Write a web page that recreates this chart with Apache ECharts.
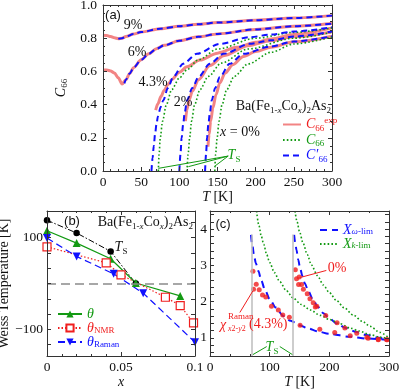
<!DOCTYPE html>
<html><head><meta charset="utf-8">
<script src="https://cdn.jsdelivr.net/npm/echarts@6/dist/echarts.min.js"></script>
<style>html,body{margin:0;padding:0;background:#fff}#c{width:400px;height:390px}</style>
</head><body><div id="c"></div>
<script>
// ================= DATA =================
// Panel (a): C66 versus T [K]
const a_exp_9 = [[0,0.818],[5,0.816],[10,0.81],[15,0.802],[20,0.797],[25,0.8],[30,0.81],[40,0.825],[50,0.837],[75,0.857],[100,0.872],[125,0.884],[150,0.894],[200,0.908],[250,0.922],[300,0.936]];
const a_cp_9  = [[20,0.797],[25,0.8],[30,0.81],[40,0.825],[50,0.837],[75,0.857],[100,0.872],[125,0.884],[150,0.894],[200,0.908],[250,0.922],[300,0.936]];
const a_exp_6 = [[0,0.608],[5,0.608],[10,0.603],[15,0.59],[20,0.562],[25,0.524],[30,0.55],[35,0.588],[40,0.622],[50,0.67],[60,0.706],[70,0.736],[80,0.757],[100,0.785],[125,0.808],[150,0.826],[200,0.853],[250,0.872],[300,0.888]];
const a_cp_6  = [[28,0.528],[30,0.55],[35,0.588],[40,0.622],[50,0.67],[60,0.706],[70,0.736],[80,0.757],[100,0.785],[125,0.808],[150,0.826],[200,0.853],[250,0.872],[300,0.888]];
const a_exp_43 = [[69,0.367],[72,0.405],[76,0.45],[80,0.485],[85,0.52],[90,0.55],[100,0.595],[110,0.628],[127,0.668],[150,0.71],[175,0.745],[200,0.775],[220,0.795],[250,0.823],[300,0.862]];
const a_c_43  = [[72.5,0],[73.5,0.1],[75,0.2],[78,0.3],[83,0.4],[90,0.49],[100,0.56],[110,0.61],[125,0.67],[150,0.735],[200,0.8],[250,0.835],[300,0.862]];
const a_cp_43 = [[63.5,0],[65,0.08],[66.5,0.15],[68.3,0.226],[70,0.28],[72,0.33],[75.5,0.385],[79,0.426],[85,0.5],[92,0.566],[105,0.646],[123,0.706],[153,0.766],[192,0.806],[220,0.822],[250,0.84],[300,0.866]];
const a_exp_2 = [[108,0.3],[110,0.37],[113,0.43],[117,0.48],[125,0.55],[140,0.635],[158,0.695],[190,0.755],[220,0.785],[250,0.808],[300,0.839]];
const a_c_2   = [[110,0],[111.5,0.1],[113.5,0.2],[116,0.3],[120,0.4],[127,0.49],[138,0.57],[155,0.65],[190,0.735],[250,0.8],[300,0.836]];
const a_cp_2  = [[100,0],[101.5,0.1],[103,0.2],[105,0.28],[107,0.35],[110,0.426],[117,0.5],[125,0.566],[140,0.646],[158,0.706],[192,0.766],[220,0.787],[250,0.81],[300,0.84]];
const a_exp_0 = [[137.5,0.146],[139,0.22],[141,0.3],[144,0.38],[148,0.46],[153,0.53],[160,0.59],[170,0.64],[184,0.69],[200,0.72],[220,0.746],[250,0.778],[300,0.812]];
const a_c_0   = [[146.5,0],[147.5,0.1],[149.5,0.2],[152,0.3],[156,0.4],[162,0.49],[172,0.57],[190,0.645],[220,0.715],[250,0.765],[300,0.808]];
const a_cp_0  = [[133.7,0],[135,0.1],[136.3,0.2],[138,0.28],[140,0.35],[142.4,0.426],[147,0.5],[153,0.566],[166,0.646],[184,0.706],[219,0.75],[250,0.78],[300,0.812]];
const a_ts_from = [164,0.09];
const a_ts_to = [[72.5,0.016],[111.8,0.026],[146.7,0.03]];

// Panel (b): Weiss temperature [K] versus x
const b_theta = [[0,115],[0.02,88],[0.043,54],[0.06,1],[0.09,-27]];
const b_theta_nmr = [[0,80],[0.04,45],[0.05,19],[0.08,-30],[0.09,-48],[0.099,-86]];
const b_theta_raman = [[0,99],[0.02,59],[0.045,21],[0.065,-21],[0.1,-128]];
const b_ts = [[0,138],[0.02,110],[0.043,70],[0.06,0]];
const b_ylabels = [-100,100];
const b_yticks = [-133.33,-100,-66.67,-33.33,0,33.33,66.67,100,133.33];

// Panel (c): susceptibility versus T [K]
const c_xw_43 = [[68.7,3.84],[71,3.55],[74,3.25],[77,3.05],[81,2.85],[86,2.58],[92,2.33],[100,2.07],[110,1.84],[123,1.6],[135,1.47],[150,1.35],[165,1.26],[180,1.18],[200,1.11],[235,1.03],[265,0.98],[300,0.94]];
const c_xw_0  = [[141,3.84],[143,3.6],[145,3.42],[148,3.15],[151,2.92],[155,2.7],[159,2.5],[165,2.28],[173,2.04],[181,1.85],[190,1.68],[200,1.54],[212,1.4],[228,1.27],[246,1.16],[262,1.08],[279,1.01],[300,0.95]];
const c_xk_43 = [[78,4.5],[82,4.1],[86,3.8],[90,3.58],[95,3.3],[100,3.08],[108,2.8],[117,2.55],[128,2.3],[140,2.09],[153,1.92],[168,1.77],[185,1.62],[200,1.51],[218,1.39],[235,1.27],[250,1.19],[268,1.09],[285,1.02],[300,0.97]];
const c_xk_0  = [[142.5,4.5],[146,4.2],[150,3.93],[156,3.61],[163,3.3],[170,3.01],[180,2.72],[190,2.46],[200,2.25],[212,2.03],[225,1.83],[240,1.63],[255,1.46],[268,1.32],[285,1.15],[300,1.0]];
const c_raman_43 = [[72,2.84],[73,2.34],[77.5,2.48],[82.5,2.33],[88,2.18],[93.5,2.13],[103,1.87],[114.5,1.77],[122,1.63],[133,1.57],[151,1.35],[184,1.24],[209,1.15],[235,1.06],[265,0.99],[282,0.95],[297,0.95]];
const c_raman_0 = [[143,2.88],[145,2.63],[149.5,2.68],[148.5,2.47],[153.5,2.47],[156.5,2.34],[163,2.22],[167.5,2.08],[173,1.97],[176.5,1.85],[179,1.87],[194,1.62],[213,1.42],[226,1.27],[246,1.13],[263,1.02],[282,0.96],[296,0.95]];
const c_ts_lines = [[[70,0.5],[70,3.85]],[[139.5,0.5],[139.5,3.85]]];
const c_ylabels = [1,2,3,4];
const c_yticks = [0.6,0.8,1,1.2,1.4,1.6,1.8,2,2.2,2.4,2.6,2.8,3,3.2,3.4,3.6,3.8,4,4.2,4.4];

// ================= STYLE =================
const FS = '"Liberation Serif","Times New Roman","DejaVu Serif",serif';
const FA = '"Liberation Sans",Arial,"DejaVu Sans",sans-serif';
const RED_LINE = '#f28484', RED = '#f01e1e', GREEN = '#139a13', BLUE = '#1010ff', AXC = '#333';

function rich(size, lh, subLh, color) {
  const c = color ? {color} : {};
  const sub = Math.round(size * 0.66);
  return {
    n: Object.assign({fontFamily: FS, fontSize: size, lineHeight: lh}, c),
    i: Object.assign({fontFamily: FS, fontSize: size, fontStyle: 'italic', lineHeight: lh}, c),
    s: Object.assign({fontFamily: FS, fontSize: sub, lineHeight: subLh, verticalAlign: 'bottom'}, c),
    si: Object.assign({fontFamily: FS, fontSize: sub, fontStyle: 'italic', lineHeight: subLh, verticalAlign: 'bottom'}, c),
    p: Object.assign({fontFamily: FS, fontSize: sub, lineHeight: subLh, verticalAlign: 'top'}, c)
  };
}

function axis(o) {
  const show = o.labels !== false;
  const ax = {
    type: 'value', gridIndex: o.g, position: o.pos, min: o.min, max: o.max,
    splitLine: {show: false},
    axisLine: {show: true, onZero: false, lineStyle: {color: AXC, width: 1}},
    axisTick: {show: true, inside: true, length: 4, lineStyle: {color: AXC, width: 1}},
    minorTick: {show: !!o.minor, splitNumber: o.minor || 5, length: 2, lineStyle: {color: AXC, width: 1}},
    axisLabel: {show: show, color: '#111', fontFamily: FS, fontSize: 13.5, margin: o.margin || 4, formatter: o.fmt},
    z: 5
  };
  if (o.interval != null) ax.interval = o.interval;
  if (o.tickVals) ax.axisTick.customValues = o.tickVals;
  if (o.labelVals) ax.axisLabel.customValues = o.labelVals;
  if (show && o.name) {
    ax.name = o.name; ax.nameLocation = 'middle'; ax.nameGap = o.nameGap;
    ax.nameTextStyle = {fontFamily: FS, fontSize: 14, color: '#111', rich: rich(14, 16, 8)};
  }
  return ax;
}

const TK = '{i|T} [K]';
const xAxes = [
  axis({g:0, pos:'bottom', min:0, max:300, interval:50, minor:5, name:TK, nameGap:13}),
  axis({g:0, pos:'top', min:0, max:300, interval:50, minor:5, labels:false}),
  axis({g:1, pos:'bottom', min:0, max:0.1, interval:0.05, minor:5, name:'{i|x}', nameGap:17,
        fmt: v => String(+v.toFixed(2))}),
  axis({g:1, pos:'top', min:0, max:0.1, interval:0.05, minor:5, labels:false}),
  axis({g:2, pos:'bottom', min:0, max:300, interval:100, minor:3, name:TK, nameGap:17}),
  axis({g:2, pos:'top', min:0, max:300, interval:100, minor:3, labels:false})
];
const yAxes = [
  axis({g:0, pos:'left', min:0, max:1, interval:0.2, minor:4, margin:6, name:'{i|C}{s|66}', nameGap:24, fmt: v => v.toFixed(1)}),
  axis({g:0, pos:'right', min:0, max:1, interval:0.2, minor:4, labels:false}),
  axis({g:1, pos:'left', min:-158, max:158, tickVals:b_yticks, labelVals:b_ylabels, name:'Weiss Temperature [K]', nameGap:31,
        fmt: v => v < 0 ? '\u2212' + Math.abs(v) : String(v)}),
  axis({g:1, pos:'right', min:-158, max:158, tickVals:b_yticks, labels:false}),
  axis({g:2, pos:'left', min:0.5, max:4.5, tickVals:c_yticks, labelVals:c_ylabels, margin:3, fmt: v => String(v)}),
  axis({g:2, pos:'right', min:0.5, max:4.5, tickVals:c_yticks, labels:false})
];

function ln(name, data, xi, color, width, type, extra) {
  return Object.assign({
    type: 'line', name: name, data: data, xAxisIndex: xi, yAxisIndex: xi,
    symbol: 'none', showSymbol: false, smooth: 0.3, smoothMonotone: 'x', clip: true,
    lineStyle: {color: color, width: width, type: type}, itemStyle: {color: color},
    emphasis: {disabled: true}, silent: true
  }, extra || {});
}
const DASH = [6, 4], DOT = [1.6, 2.2];

const arrowML = (pairs, color) => ({
  silent: true, symbol: ['none', 'arrow'], symbolSize: [0, 6], label: {show: false},
  lineStyle: {color: color, width: 1, type: 'solid'}, data: pairs
});

const series = [
  // panel (a)
  ln('C66exp', a_exp_9, 0, RED_LINE, 3, 'solid'),
  ln('C66exp', a_exp_6, 0, RED_LINE, 3, 'solid'),
  ln('C66exp', a_exp_43, 0, RED_LINE, 3, 'solid'),
  ln('C66exp', a_exp_2, 0, RED_LINE, 3, 'solid'),
  ln('C66exp', a_exp_0, 0, RED_LINE, 3, 'solid'),
  ln('C66', a_c_43, 0, GREEN, 1.6, DOT),
  ln('C66', a_c_2, 0, GREEN, 1.6, DOT),
  ln('C66', a_c_0, 0, GREEN, 1.6, DOT, {
    markLine: arrowML(a_ts_to.map(p => [{coord: a_ts_from}, {coord: p}]), GREEN)
  }),
  ln("C'66", a_cp_9, 0, BLUE, 2, DASH),
  ln("C'66", a_cp_6, 0, BLUE, 2, DASH),
  ln("C'66", a_cp_43, 0, BLUE, 2, DASH),
  ln("C'66", a_cp_2, 0, BLUE, 2, DASH),
  ln("C'66", a_cp_0, 0, BLUE, 2, DASH),
  // panel (b)
  ln('TS', b_ts, 2, '#000', 1, [6, 2, 1.5, 2], {smooth: false, symbol: 'circle', showSymbol: true, symbolSize: 6.5,
    markLine: {silent: true, symbol: 'none', label: {show: false}, lineStyle: {color: '#8a8a8a', width: 1.5, type: [9, 5]}, data: [{yAxis: 0}]}}),
  ln('θ', b_theta, 2, GREEN, 1.2, 'solid', {smooth: false, symbol: 'triangle', showSymbol: true, symbolSize: 8}),
  ln('θNMR', b_theta_nmr, 2, RED, 1.2, [1.5, 2], {smooth: false, symbol: 'rect', showSymbol: true, symbolSize: 8,
    itemStyle: {color: '#fff', borderColor: RED, borderWidth: 1.2}}),
  ln('θRaman', b_theta_raman, 2, BLUE, 1.2, [7, 4], {smooth: false, symbol: 'triangle', symbolRotate: 180, showSymbol: true, symbolSize: 8}),
  // panel (c)
  ln('Xw', c_xw_43, 4, BLUE, 2, [7, 5]),
  ln('Xw', c_xw_0, 4, BLUE, 2, [7, 5]),
  ln('Xk', c_xk_43, 4, GREEN, 1.6, DOT),
  ln('Xk', c_xk_0, 4, GREEN, 1.6, DOT),
  {type: 'scatter', name: 'r43', data: c_raman_43, xAxisIndex: 4, yAxisIndex: 4, symbol: 'circle', symbolSize: 5,
   itemStyle: {color: RED}, silent: true, z: 3,
   markLine: {silent: true, symbol: 'none', label: {show: false}, lineStyle: {color: '#bdbdbd', width: 1.5, type: 'solid'},
     data: c_ts_lines.map(p => [{coord: p[0]}, {coord: p[1]}])}},
  {type: 'scatter', name: 'r0', data: c_raman_0, xAxisIndex: 4, yAxisIndex: 4, symbol: 'circle', symbolSize: 5,
   itemStyle: {color: RED}, silent: true, z: 3,
   markLine: {silent: true, symbol: 'none', label: {show: false}, lineStyle: {color: RED, width: 1, type: 'solid'},
     data: [[{coord: [150, 2.66]}, {coord: [195, 2.86]}], [{coord: [50, 1.7]}, {coord: [72, 2.3]}]]}},
  {type: 'line', name: 'tsc', data: [], xAxisIndex: 4, yAxisIndex: 4, silent: true,
   markLine: arrowML([[{coord: [95, 0.76]}, {coord: [72, 0.54]}], [{coord: [117, 0.76]}, {coord: [138, 0.54]}]], GREEN)}
];

const legendFmt = {
  'C66exp': '{i|C}{s|66}{p|exp}', 'C66': '{i|C}{s|66}', "C'66": '{i|C\u2032}{s|66}',
  'θ': '{i|θ}', 'θNMR': '{i|θ}{s|NMR}', 'θRaman': '{i|θ}{s|Raman}',
  'Xw': '{i|X}{si|ω}{s|-lim}', 'Xk': '{i|X}{si|k}{s|-lim}'
};
const lg = (items, left, top, w, h, lh, subLh, symOpacity) => ({
  show: true, orient: 'vertical', left: left, top: top, itemWidth: w, itemHeight: h, itemGap: 0, padding: 0,
  selectedMode: false, itemStyle: symOpacity === 0 ? {opacity: 0} : {},
  data: items.map(it => ({name: it[0], textStyle: {color: it[1]}})),
  formatter: n => legendFmt[n],
  textStyle: {fontFamily: FS, fontSize: 14, rich: rich(14, lh, subLh)}
});

const ba = '{n|Ba(Fe}{s|1-}{si|x}{n|Co}{si|x}{n|)}{s|2}{n|As}{s|2}';
function txt(x, y, text, opt) {
  opt = opt || {};
  const align = opt.align || 'center';
  const size = opt.size || 14;
  return {type: 'text', x: x, y: y, z: 100, silent: true,
    style: {text: text, fill: opt.color || '#111', fontFamily: opt.font || FS, fontSize: size,
      fontStyle: opt.italic ? 'italic' : 'normal',
      align: align, verticalAlign: 'middle', textAlign: align, textVerticalAlign: 'middle',
      rich: rich(size, size + 4, 8, opt.color || '#111')}};
}

const graphics = [
  txt(113, 15, '(a)', {font: FA, size: 13}),
  txt(133, 25, '9%'), txt(137, 52, '6%'), txt(153, 82, '4.3%'), txt(183, 102, '2%'),
  txt(240, 132, '{i|x}{n| = 0%}'),
  txt(331, 106, ba, {align: 'right'}),
  txt(234, 155, '{i|T}{s|S}', {color: GREEN}),
  txt(72, 221, '(b)', {font: FA, size: 13}),
  txt(193, 222, ba, {align: 'right'}),
  txt(121, 247, '{i|T}{s|S}'),
  txt(223, 224, '(c)', {font: FA, size: 13}),
  txt(337, 268, '0%', {color: RED}),
  txt(220, 325, '{i|χ}', {color: RED, align: 'left'}),
  txt(228, 317, 'Raman', {color: RED, align: 'left', size: 9}),
  txt(228, 329, '{si|x}{p|2}{s|-}{si|y}{p|2}', {color: RED, align: 'left', size: 12}),
  txt(249, 324, '(4.3%)', {color: RED, align: 'left'}),
  txt(272, 347, '{i|T}{s|S}', {color: GREEN})
];

const option = {
  animation: false,
  backgroundColor: '#fff',
  grid: [
    {left: 103, top: 5, width: 229, height: 166, outerBoundsMode: 'none', containLabel: false},
    {left: 47, top: 211, width: 148, height: 145, outerBoundsMode: 'none', containLabel: false},
    {left: 210, top: 211, width: 179, height: 145, outerBoundsMode: 'none', containLabel: false}
  ],
  xAxis: xAxes, yAxis: yAxes,
  legend: [
    lg([['C66exp', RED], ['C66', GREEN], ["C'66", BLUE]], 282, 116, 18, 8, 17, 9, 0),
    lg([['θ', GREEN], ['θNMR', RED], ['θRaman', BLUE]], 57, 307, 24, 9, 13.3, 6),
    lg([['Xw', BLUE], ['Xk', GREEN]], 319, 223, 18, 8, 13, 6, 0)
  ],
  series: series,
  graphic: graphics
};
const chart = echarts.init(document.getElementById('c'), null, {renderer: 'canvas'});
chart.setOption(option);
</script></body></html>
